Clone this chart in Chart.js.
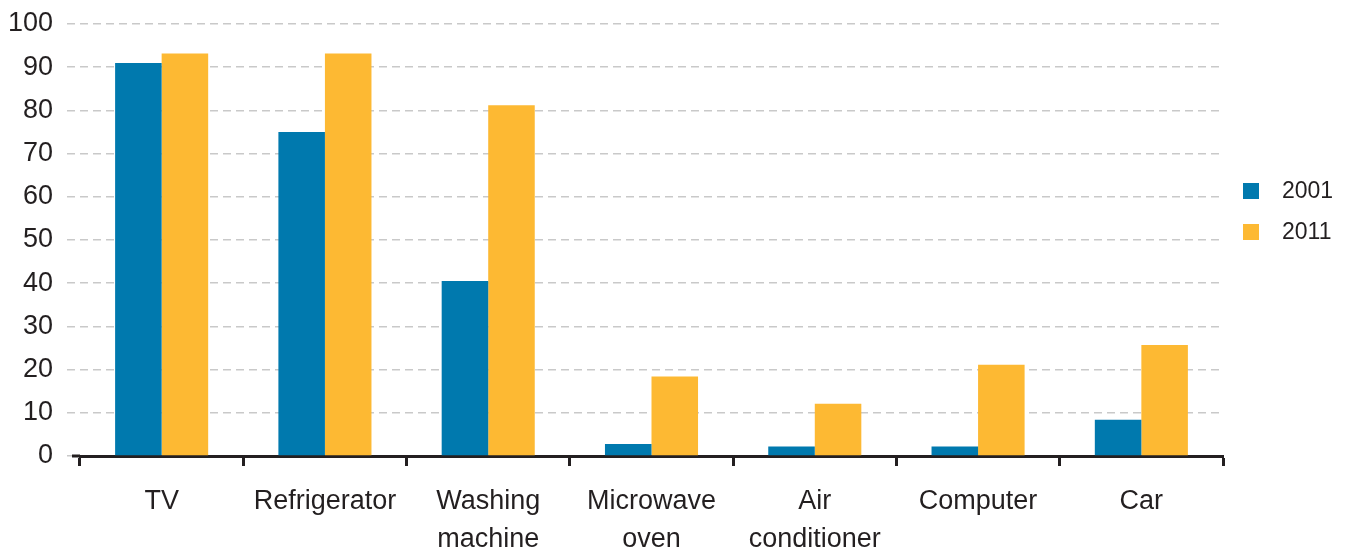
<!DOCTYPE html>
<html>
<head>
<meta charset="utf-8">
<script src="https://cdn.jsdelivr.net/npm/chart.js@4"></script>
<style>
html,body{margin:0;padding:0;background:#fff;}
#wrap{width:1346px;height:550px;position:relative;}
</style>
</head>
<body>
<div id="wrap"><canvas id="c" width="1346" height="550"></canvas></div>
<script>
const categories = ["TV", "Refrigerator", ["Washing", "machine"], ["Microwave", "oven"], ["Air", "conditioner"], "Computer", "Car"];
const seriesNames = ["2001", "2011"];
const values2001 = [91, 75, 40.5, 2.8, 2.2, 2.2, 8.4];
const values2011 = [93.2, 93.2, 81.2, 18.4, 12.1, 21.1, 25.7];
const yTicks = [0, 10, 20, 30, 40, 50, 60, 70, 80, 90, 100];

const TEXT = '#231f20';
const FONT = '"Liberation Sans", Arial, sans-serif';
const BLUE = '#0079ae';
const ORANGE = '#fdb933';

const legendPlugin = {
  id: 'customLegend',
  afterDraw(chart) {
    const ctx = chart.ctx;
    ctx.save();
    // short extension of the category axis line to the left
    const y0 = chart.scales.y.getPixelForValue(0);
    ctx.strokeStyle = TEXT;
    ctx.lineWidth = 3;
    ctx.beginPath();
    ctx.moveTo(72, y0);
    ctx.lineTo(chart.chartArea.left, y0);
    ctx.stroke();
    chart.data.datasets.forEach((ds, i) => {
      const y = 183 + i * 41;
      ctx.fillStyle = ds.backgroundColor;
      ctx.fillRect(1243, y, 16, 16);
      ctx.fillStyle = TEXT;
      ctx.font = '23px ' + FONT;
      ctx.textBaseline = 'middle';
      ctx.textAlign = 'left';
      ctx.fillText(ds.label, 1282, y + 8.5);
    });
    ctx.restore();
  }
};

new Chart(document.getElementById('c'), {
  type: 'bar',
  data: {
    labels: categories,
    datasets: [
      { label: seriesNames[0], data: values2001, backgroundColor: BLUE, borderWidth: 0 },
      { label: seriesNames[1], data: values2011, backgroundColor: ORANGE, borderWidth: 0 }
    ]
  },
  options: {
    responsive: false,
    animation: false,
    devicePixelRatio: 1,
    layout: { padding: { top: 24, right: 123, left: 0, bottom: 0 } },
    plugins: {
      legend: { display: false },
      tooltip: { enabled: false }
    },
    datasets: {
      bar: { categoryPercentage: 0.57, barPercentage: 1.0 }
    },
    scales: {
      x: {
        offset: true,
        grid: {
          offset: true,
          drawOnChartArea: false,
          drawTicks: true,
          tickLength: 10,
          tickColor: TEXT,
          tickWidth: 3
        },
        border: { display: true, color: TEXT, width: 3 },
        ticks: {
          color: TEXT,
          font: { family: FONT, size: 27, lineHeight: 1.42 },
          padding: 16,
          maxRotation: 0,
          autoSkip: false
        },
        afterFit(scale) { scale.height = 94; }
      },
      y: {
        min: 0,
        max: 100,
        afterBuildTicks(scale) { scale.ticks = yTicks.map(v => ({ value: v })); },
        grid: {
          color: '#c9c9c9',
          lineWidth: 1.5,
          borderDash: [8, 5],
          drawTicks: true,
          tickLength: 13,
          tickColor: '#c9c9c9',
          tickBorderDash: [8, 5],
          tickWidth: 1.5
        },
        border: { display: false, dash: [8, 5] },
        ticks: {
          color: TEXT,
          font: { family: FONT, size: 27 },
          padding: 14
        },
        afterFit(scale) { scale.width = 80; scale.paddingTop = 0; scale.paddingBottom = 0; }
      }
    }
  },
  plugins: [legendPlugin]
});
</script>
</body>
</html>
